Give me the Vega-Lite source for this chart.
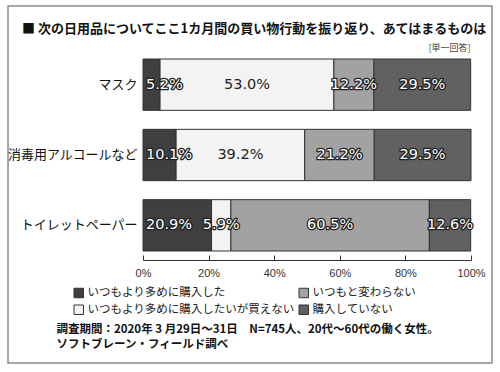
{
  "$schema": "https://vega.github.io/schema/vega-lite/v6.json",
  "width": 484,
  "height": 357,
  "autosize": "none",
  "padding": {"left": 8, "top": 6, "right": 8, "bottom": 9},
  "background": "white",
  "title": {
    "text": "■ 次の日用品についてここ1カ月間の買い物行動を振り返り、あてはまるものは",
    "anchor": "start",
    "frame": "group",
    "offset": 0,
    "dx": 14,
    "dy": 36,
    "baseline": "middle",
    "font": "Noto Sans CJK JP",
    "fontSize": 13,
    "fontWeight": "bold",
    "color": "#111111"
  },
  "config": {
    "view": {"stroke": "#8a8a8a", "strokeWidth": 1.5}
  },
  "data": {
    "values": [
      {"item": "マスク", "cat": "いつもより多めに購入した", "pct": 0.052},
      {"item": "マスク", "cat": "いつもより多めに購入したいが買えない", "pct": 0.530},
      {"item": "マスク", "cat": "いつもと変わらない", "pct": 0.122},
      {"item": "マスク", "cat": "購入していない", "pct": 0.295},
      {"item": "消毒用アルコールなど", "cat": "いつもより多めに購入した", "pct": 0.101},
      {"item": "消毒用アルコールなど", "cat": "いつもより多めに購入したいが買えない", "pct": 0.392},
      {"item": "消毒用アルコールなど", "cat": "いつもと変わらない", "pct": 0.212},
      {"item": "消毒用アルコールなど", "cat": "購入していない", "pct": 0.295},
      {"item": "トイレットペーパー", "cat": "いつもより多めに購入した", "pct": 0.209},
      {"item": "トイレットペーパー", "cat": "いつもより多めに購入したいが買えない", "pct": 0.059},
      {"item": "トイレットペーパー", "cat": "いつもと変わらない", "pct": 0.605},
      {"item": "トイレットペーパー", "cat": "購入していない", "pct": 0.126}
    ]
  },
  "transform": [
    {"stack": "pct", "groupby": ["item"], "as": ["s", "e"]}
  ],
  "encoding": {
    "y": {
      "field": "item",
      "type": "nominal",
      "sort": ["マスク", "消毒用アルコールなど", "トイレットペーパー"],
      "scale": {"range": [53, 245], "paddingInner": 0.27, "paddingOuter": 0},
      "axis": {
        "orient": "left",
        "offset": -135,
        "domain": false,
        "ticks": false,
        "labelPadding": 6,
        "labelFont": "Noto Sans CJK JP",
        "labelFontSize": 13,
        "labelColor": "#111111",
        "title": "[単一回答]",
        "titleAngle": 0,
        "titleX": 327,
        "titleY": 41,
        "titleAlign": "right",
        "titleBaseline": "middle",
        "titleFont": "Noto Sans CJK JP",
        "titleFontSize": 9,
        "titleFontWeight": "normal",
        "titleColor": "#444444"
      }
    }
  },
  "layer": [
    {
      "mark": {"type": "bar", "stroke": "#333333", "strokeWidth": 1},
      "encoding": {
        "x": {
          "field": "s",
          "type": "quantitative",
          "scale": {"domain": [0, 1], "range": [135, 463], "nice": false},
          "axis": {
            "orient": "bottom",
            "offset": -103,
            "format": "%",
            "values": [0, 0.2, 0.4, 0.6, 0.8, 1],
            "grid": false,
            "tickSize": -5,
            "labelPadding": 12,
            "labelFlush": false,
            "domainColor": "#333333",
            "tickColor": "#333333",
            "labelFont": "Liberation Sans",
            "labelFontSize": 11,
            "labelColor": "#333333",
            "title": ["調査期間：2020年 3 月29日～31日　N=745人、20代～60代の働く女性。", "ソフトブレーン・フィールド調べ"],
            "titleX": 48,
            "titleY": 63.5,
            "titleAlign": "left",
            "titleAnchor": "start",
            "titleBaseline": "top",
            "titleFont": "Noto Sans CJK JP",
            "titleFontSize": 11.5,
            "titleFontWeight": "bold",
            "titleLineHeight": 15,
            "titleColor": "#111111"
          }
        },
        "x2": {"field": "e"},
        "color": {
          "field": "cat",
          "type": "nominal",
          "scale": {
            "domain": ["いつもより多めに購入した", "いつもより多めに購入したいが買えない", "いつもと変わらない", "購入していない"],
            "range": ["#3f3f3f", "#f3f3f3", "#a2a2a2", "#616161"]
          },
          "legend": {
            "orient": "none",
            "legendX": 65,
            "legendY": 281,
            "columns": 2,
            "direction": "vertical",
            "title": null,
            "symbolType": "square",
            "symbolSize": 90,
            "symbolStrokeColor": "#333333",
            "symbolStrokeWidth": 1,
            "labelFont": "Noto Sans CJK JP",
            "labelFontSize": 11.5,
            "labelColor": "#222222",
            "labelOffset": 3,
            "labelLimit": 400,
            "columnPadding": 2,
            "rowPadding": 3
          }
        }
      }
    },
    {
      "transform": [
        {"filter": "!(datum.cat === 'いつもより多めに購入した' && datum.pct < 0.25)"},
        {"fold": ["s", "e"], "as": ["k", "v"]},
        {"aggregate": [{"op": "mean", "field": "v", "as": "mid"}], "groupby": ["item", "cat", "pct"]}
      ],
      "mark": {"type": "text", "font": "DejaVu Sans", "fontSize": 14.5, "fill": "#222222", "stroke": "#222222", "strokeJoin": "round"},
      "encoding": {
        "x": {"field": "mid", "type": "quantitative"},
        "text": {"field": "pct", "type": "quantitative", "format": ".1%"},
        "strokeWidth": {
          "condition": {"test": "datum.cat === 'いつもより多めに購入したいが買えない' && datum.pct > 0.1", "value": 0},
          "value": 2.6
        }
      }
    },
    {
      "transform": [
        {"filter": "!(datum.cat === 'いつもより多めに購入した' && datum.pct < 0.25)"},
        {"filter": "!(datum.cat === 'いつもより多めに購入したいが買えない' && datum.pct > 0.1)"},
        {"fold": ["s", "e"], "as": ["k", "v"]},
        {"aggregate": [{"op": "mean", "field": "v", "as": "mid"}], "groupby": ["item", "cat", "pct"]}
      ],
      "mark": {"type": "text", "font": "DejaVu Sans", "fontSize": 14.5, "fill": "#ffffff"},
      "encoding": {
        "x": {"field": "mid", "type": "quantitative"},
        "text": {"field": "pct", "type": "quantitative", "format": ".1%"}
      }
    },
    {
      "transform": [
        {"filter": "datum.cat === 'いつもより多めに購入した' && datum.pct < 0.25"}
      ],
      "mark": {"type": "text", "align": "left", "dx": 3, "font": "DejaVu Sans", "fontSize": 14.5, "fill": "#222222", "stroke": "#222222", "strokeWidth": 2.6, "strokeJoin": "round"},
      "encoding": {
        "x": {"field": "s", "type": "quantitative"},
        "text": {"field": "pct", "type": "quantitative", "format": ".1%"}
      }
    },
    {
      "transform": [
        {"filter": "datum.cat === 'いつもより多めに購入した' && datum.pct < 0.25"}
      ],
      "mark": {"type": "text", "align": "left", "dx": 3, "font": "DejaVu Sans", "fontSize": 14.5, "fill": "#ffffff"},
      "encoding": {
        "x": {"field": "s", "type": "quantitative"},
        "text": {"field": "pct", "type": "quantitative", "format": ".1%"}
      }
    }
  ]
}
